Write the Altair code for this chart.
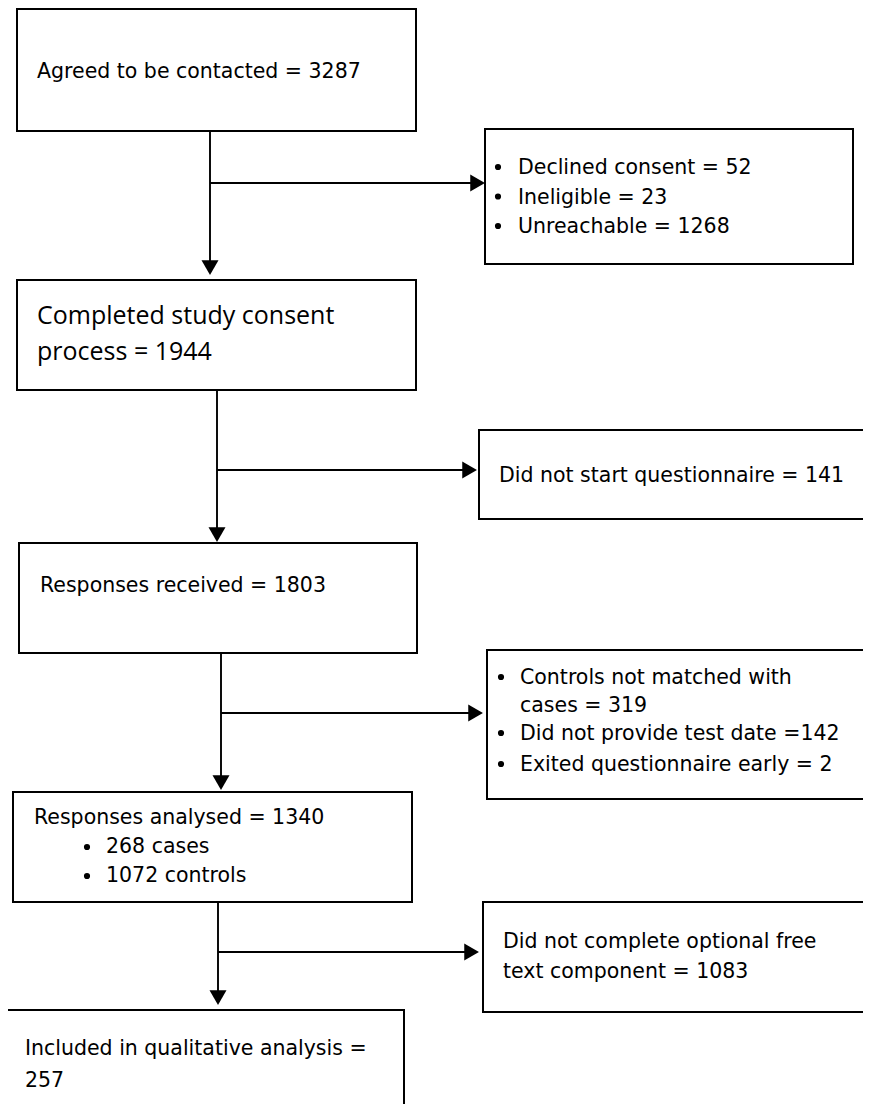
import altair as alt
import pandas as pd

# ---------------- content ----------------
main_steps = [
    ["Agreed to be contacted = 3287"],
    ["Completed study consent", "process = 1944"],
    ["Responses received = 1803"],
    ["Responses analysed = 1340"],
    ["Included in qualitative analysis =", "257"],
]
main_bullets = ["268 cases", "1072 controls"]
exclusions_1 = ["Declined consent = 52", "Ineligible = 23", "Unreachable = 1268"]
exclusions_2 = ["Did not start questionnaire = 141"]
exclusions_3 = ["Controls not matched with", "cases = 319",
                "Did not provide test date =142", "Exited questionnaire early = 2"]
exclusions_4 = ["Did not complete optional free", "text component = 1083"]

# ---------------- layout (page pixels) ----------------
W, H = 855, 1096
PX0, PY0 = 8, 8

box_x1 = [17, 17, 19, 13, 5, 485, 479, 487, 483]
box_x2 = [416, 416, 417, 412, 404, 853, 890, 890, 890]
box_y1 = [9, 280, 543, 792, 1010, 129, 430, 650, 902]
box_y2 = [131, 390, 653, 902, 1140, 264, 519, 799, 1012]

vline_x = [210, 217, 221, 218]
vline_y1 = [131, 390, 653, 902]
vline_y2 = [272, 538, 788, 1002]
hline_y = [183, 470, 713, 952]
hline_x2 = [480, 472, 478, 474]
down_tip = [275, 542, 790, 1005]
right_tip = [485, 477, 483, 479]

font_a = "DejaVu Sans"
font_b = "Open Sans"
size_a = 20.5
size_b = 25

t_text, t_x, t_y, t_font = [], [], [], []
def add(text, x, y, font=font_a):
    t_text.append(text); t_x.append(x); t_y.append(y); t_font.append(font)

add(main_steps[0][0], 37, 78)
add(main_steps[1][0], 37, 324, font_b)
add(main_steps[1][1], 37, 360, font_b)
add(main_steps[2][0], 40, 592)
add(main_steps[3][0], 34, 824)
add(main_bullets[0], 106, 853)
add(main_bullets[1], 106, 882)
add(main_steps[4][0], 25, 1055)
add(main_steps[4][1], 25, 1087)
for s, yy in zip(exclusions_1, [174, 203.5, 233]):
    add(s, 518, yy)
add(exclusions_2[0], 499, 482)
for s, yy in zip(exclusions_3, [684, 712, 740, 771]):
    add(s, 520, yy)
for s, yy in zip(exclusions_4, [948, 978]):
    add(s, 503, yy)

bullet_x = [87, 87, 498, 498, 498, 501, 501, 501]
bullet_y = [847, 876, 167, 196.5, 226, 677, 733, 764]

# ---------------- data frames ----------------
boxes = pd.DataFrame({"x1": box_x1, "x2": box_x2, "y1": box_y1, "y2": box_y2})
vlines = pd.DataFrame({"x": vline_x, "y1": vline_y1, "y2": vline_y2})
hlines = pd.DataFrame({"y": hline_y, "x1": vline_x, "x2": hline_x2})
downs = pd.DataFrame({"x": vline_x, "y": [t - 7.4 for t in down_tip]})
rights = pd.DataFrame({"x": [t - 7.4 for t in right_tip], "y": hline_y})
texts = pd.DataFrame({"text": t_text, "x": t_x, "y": t_y, "font": t_font})
bullets = pd.DataFrame({"x": bullet_x, "y": bullet_y})

xs = alt.Scale(domain=[PX0, PX0 + W], nice=False, zero=False)
ys = alt.Scale(domain=[PY0, PY0 + H], nice=False, zero=False, reverse=True)

def X(f):
    return alt.X(f, type="quantitative", scale=xs, axis=None)

def Y(f):
    return alt.Y(f, type="quantitative", scale=ys, axis=None)

rects = alt.Chart(boxes).mark_rect(fill="white", stroke="black", strokeWidth=2, clip=True).encode(
    x=X("x1"), x2="x2", y=Y("y1"), y2="y2")

vr = alt.Chart(vlines).mark_rule(color="black", strokeWidth=1.9).encode(
    x=X("x"), y=Y("y1"), y2="y2")
hr = alt.Chart(hlines).mark_rule(color="black", strokeWidth=1.9).encode(
    x=X("x1"), x2="x2", y=Y("y"))

dn = alt.Chart(downs).mark_point(shape="triangle-down", filled=True, color="black",
                                 opacity=1, size=289).encode(x=X("x"), y=Y("y"))
rt = alt.Chart(rights).mark_point(shape="triangle-right", filled=True, color="black",
                                  opacity=1, size=289).encode(x=X("x"), y=Y("y"))

layers = [rects, vr, hr, dn, rt]
for font, size in [(font_a, size_a), (font_b, size_b)]:
    sub = texts[texts["font"] == font]
    layers.append(
        alt.Chart(sub).mark_text(align="left", baseline="alphabetic", font=font,
                                 fontSize=size, color="black").encode(
            x=X("x"), y=Y("y"), text="text:N")
    )

bl = alt.Chart(bullets).mark_point(shape="circle", filled=True, color="black",
                                   opacity=1, size=38).encode(x=X("x"), y=Y("y"))
layers.append(bl)

chart = alt.layer(*layers).properties(
    width=W, height=H, padding=0, autosize=alt.AutoSizeParams(type="none")
).configure(background="white", view=alt.ViewConfig(stroke=None))

chart.save("out.html", embed_options={"renderer": "svg", "actions": False})
